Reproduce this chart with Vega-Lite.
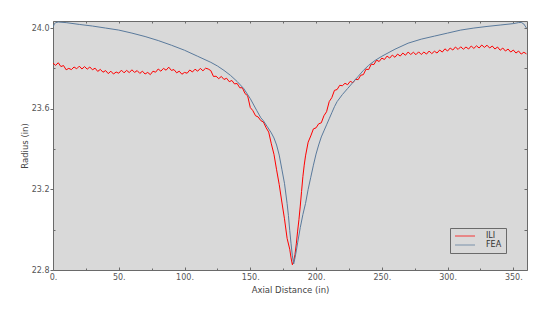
{
  "$schema": "https://vega.github.io/schema/vega-lite/v6.json",
  "width": 474,
  "height": 249,
  "autosize": {"type": "none"},
  "padding": {"left": 53, "top": 21, "right": 25, "bottom": 44},
  "background": "white",
  "config": {
    "view": {"fill": "#d9d9d9", "stroke": "#6a6a6a", "strokeWidth": 1},
    "axis": {
      "grid": false,
      "domain": false,
      "tickColor": "#6a6a6a",
      "tickWidth": 1,
      "labelFont": "DejaVu Sans",
      "labelFontSize": 8,
      "labelColor": "#555555",
      "titleFont": "DejaVu Sans",
      "titleFontSize": 8.5,
      "titleFontWeight": "normal",
      "titleColor": "#444444",
      "labelFlush": false,
      "labelOverlap": false
    }
  },
  "datasets": {
    "ili": [
      {"x":0,"y":23.826},{"x":2,"y":23.815},{"x":4,"y":23.828},{"x":6,"y":23.809},{"x":8,"y":23.814},{"x":10,"y":23.793},{"x":12,"y":23.8},{"x":14,"y":23.794},{"x":16,"y":23.807},{"x":18,"y":23.798},
      {"x":20,"y":23.811},{"x":22,"y":23.797},{"x":24,"y":23.809},{"x":26,"y":23.796},{"x":28,"y":23.807},{"x":30,"y":23.793},{"x":32,"y":23.801},{"x":34,"y":23.785},{"x":36,"y":23.795},{"x":38,"y":23.781},
      {"x":40,"y":23.789},{"x":42,"y":23.774},{"x":44,"y":23.786},{"x":46,"y":23.772},{"x":48,"y":23.782},{"x":50,"y":23.776},{"x":52,"y":23.791},{"x":54,"y":23.778},{"x":56,"y":23.79},{"x":58,"y":23.779},
      {"x":60,"y":23.793},{"x":62,"y":23.78},{"x":64,"y":23.789},{"x":66,"y":23.775},{"x":68,"y":23.786},{"x":70,"y":23.772},{"x":72,"y":23.78},{"x":74,"y":23.769},{"x":76,"y":23.786},{"x":78,"y":23.781},
      {"x":80,"y":23.797},{"x":82,"y":23.786},{"x":84,"y":23.8},{"x":86,"y":23.791},{"x":88,"y":23.806},{"x":90,"y":23.79},{"x":92,"y":23.794},{"x":94,"y":23.778},{"x":96,"y":23.786},{"x":98,"y":23.771},
      {"x":100,"y":23.78},{"x":102,"y":23.776},{"x":104,"y":23.792},{"x":106,"y":23.782},{"x":108,"y":23.796},{"x":110,"y":23.786},{"x":112,"y":23.8},{"x":114,"y":23.788},{"x":116,"y":23.801},{"x":118,"y":23.797},
      {"x":120,"y":23.789},{"x":122,"y":23.76},{"x":124,"y":23.761},{"x":126,"y":23.749},{"x":128,"y":23.76},{"x":130,"y":23.745},{"x":132,"y":23.751},{"x":134,"y":23.734},{"x":136,"y":23.74},{"x":138,"y":23.723},
      {"x":140,"y":23.725},{"x":142,"y":23.704},{"x":144,"y":23.704},{"x":146,"y":23.675},{"x":148,"y":23.664},{"x":150,"y":23.606},{"x":152,"y":23.59},{"x":154,"y":23.565},{"x":156,"y":23.559},{"x":158,"y":23.541},
      {"x":160,"y":23.534},{"x":162,"y":23.506},{"x":164,"y":23.484},{"x":166,"y":23.426},{"x":168,"y":23.374},{"x":170,"y":23.297},{"x":172,"y":23.224},{"x":174,"y":23.137},{"x":176,"y":23.054},{"x":178,"y":22.957},
      {"x":180,"y":22.903},{"x":181,"y":22.86},{"x":182,"y":22.826},{"x":183,"y":22.843},{"x":184,"y":22.877},{"x":185,"y":22.93},{"x":186,"y":22.993},{"x":187,"y":23.05},{"x":188,"y":23.117},{"x":189,"y":23.19},
      {"x":190,"y":23.263},{"x":191,"y":23.32},{"x":192,"y":23.366},{"x":193,"y":23.4},{"x":194,"y":23.434},{"x":196,"y":23.465},{"x":198,"y":23.5},{"x":200,"y":23.505},{"x":202,"y":23.525},{"x":204,"y":23.53},
      {"x":206,"y":23.565},{"x":208,"y":23.585},{"x":210,"y":23.635},{"x":212,"y":23.655},{"x":214,"y":23.691},{"x":216,"y":23.695},{"x":218,"y":23.716},{"x":220,"y":23.714},{"x":222,"y":23.726},{"x":224,"y":23.719},
      {"x":226,"y":23.736},{"x":228,"y":23.729},{"x":230,"y":23.746},{"x":232,"y":23.744},{"x":234,"y":23.766},{"x":236,"y":23.769},{"x":238,"y":23.796},{"x":240,"y":23.794},{"x":242,"y":23.821},{"x":244,"y":23.819},
      {"x":246,"y":23.841},{"x":248,"y":23.834},{"x":250,"y":23.851},{"x":252,"y":23.844},{"x":254,"y":23.861},{"x":256,"y":23.851},{"x":258,"y":23.866},{"x":260,"y":23.855},{"x":262,"y":23.871},{"x":264,"y":23.861},
      {"x":266,"y":23.876},{"x":268,"y":23.865},{"x":270,"y":23.881},{"x":272,"y":23.869},{"x":274,"y":23.88},{"x":276,"y":23.868},{"x":278,"y":23.882},{"x":280,"y":23.869},{"x":282,"y":23.881},{"x":284,"y":23.871},
      {"x":286,"y":23.886},{"x":288,"y":23.873},{"x":290,"y":23.885},{"x":292,"y":23.876},{"x":294,"y":23.891},{"x":296,"y":23.881},{"x":298,"y":23.897},{"x":300,"y":23.886},{"x":302,"y":23.901},{"x":304,"y":23.891},
      {"x":306,"y":23.906},{"x":308,"y":23.894},{"x":310,"y":23.907},{"x":312,"y":23.895},{"x":314,"y":23.906},{"x":316,"y":23.896},{"x":318,"y":23.911},{"x":320,"y":23.899},{"x":322,"y":23.912},{"x":324,"y":23.901},
      {"x":326,"y":23.916},{"x":328,"y":23.904},{"x":330,"y":23.915},{"x":332,"y":23.901},{"x":334,"y":23.911},{"x":336,"y":23.896},{"x":338,"y":23.906},{"x":340,"y":23.89},{"x":342,"y":23.901},{"x":344,"y":23.886},
      {"x":346,"y":23.896},{"x":348,"y":23.881},{"x":350,"y":23.891},{"x":352,"y":23.876},{"x":354,"y":23.886},{"x":356,"y":23.871},{"x":358,"y":23.88},{"x":360,"y":23.872}
    ],
    "fea": [
      {"x":0,"y":24.005},{"x":1,"y":24.02},{"x":2,"y":24.027},{"x":4,"y":24.03},{"x":10,"y":24.027},{"x":20,"y":24.018},{"x":30,"y":24.01},{"x":40,"y":24.0},{"x":50,"y":23.99},{"x":60,"y":23.975},
      {"x":70,"y":23.958},{"x":80,"y":23.938},{"x":90,"y":23.915},{"x":100,"y":23.89},{"x":110,"y":23.86},{"x":120,"y":23.83},{"x":125,"y":23.812},{"x":130,"y":23.79},{"x":135,"y":23.765},{"x":140,"y":23.735},
      {"x":145,"y":23.7},{"x":150,"y":23.65},{"x":155,"y":23.59},{"x":158,"y":23.555},{"x":160,"y":23.54},{"x":163,"y":23.51},{"x":166,"y":23.48},{"x":168,"y":23.455},{"x":170,"y":23.42},{"x":172,"y":23.37},
      {"x":174,"y":23.3},{"x":176,"y":23.23},{"x":178,"y":23.13},{"x":179,"y":23.07},{"x":180,"y":22.995},{"x":181,"y":22.93},{"x":182,"y":22.87},{"x":183,"y":22.83},{"x":184,"y":22.86},{"x":185,"y":22.895},
      {"x":186,"y":22.935},{"x":188,"y":23.01},{"x":190,"y":23.075},{"x":192,"y":23.13},{"x":194,"y":23.2},{"x":196,"y":23.26},{"x":198,"y":23.32},{"x":200,"y":23.375},{"x":202,"y":23.42},{"x":204,"y":23.46},
      {"x":206,"y":23.49},{"x":208,"y":23.52},{"x":210,"y":23.55},{"x":212,"y":23.58},{"x":214,"y":23.61},{"x":216,"y":23.635},{"x":220,"y":23.67},{"x":224,"y":23.7},{"x":228,"y":23.73},{"x":232,"y":23.76},
      {"x":236,"y":23.79},{"x":240,"y":23.815},{"x":245,"y":23.84},{"x":250,"y":23.86},{"x":260,"y":23.895},{"x":270,"y":23.925},{"x":280,"y":23.945},{"x":290,"y":23.96},{"x":300,"y":23.975},{"x":310,"y":23.99},
      {"x":320,"y":24.0},{"x":330,"y":24.008},{"x":340,"y":24.015},{"x":350,"y":24.022},{"x":354,"y":24.027},{"x":356,"y":24.028},{"x":358,"y":24.02},{"x":359,"y":24.01},{"x":360,"y":24.0}
    ]
  },
  "resolve": {"axis": {"x": "independent", "y": "independent"}},
  "layer": [
    {
      "data": {"name": "ili"},
      "mark": {"type": "line", "strokeWidth": 1, "clip": true},
      "encoding": {
        "x": {
          "field": "x", "type": "quantitative",
          "scale": {"domain": [0, 360.4], "nice": false, "zero": false},
          "axis": {
            "orient": "bottom",
            "title": "Axial Distance (in)",
            "values": [0,25,50,75,100,125,150,175,200,225,250,275,300,325,350],
            "labelExpr": "datum.value % 50 === 0 ? datum.value + '.' : ''",
            "tickSize": {"condition": {"test": "datum.value % 50 === 0", "value": -3}, "value": -2},
            "labelPadding": 6,
            "titlePadding": 3
          }
        },
        "y": {
          "field": "y", "type": "quantitative",
          "scale": {"domain": [22.8, 24.035], "nice": false, "zero": false},
          "axis": {
            "orient": "left",
            "title": "Radius (in)",
            "values": [22.8, 23.0, 23.2, 23.4, 23.6, 23.8, 24.0],
            "labelExpr": "round(datum.value * 10) % 4 === 0 ? format(datum.value, '.1f') : ''",
            "tickSize": {"condition": {"test": "round(datum.value * 10) % 4 === 0", "value": 3}, "value": -2},
            "labelPadding": 1,
            "titlePadding": 2
          }
        },
        "color": {
          "datum": "ILI",
          "scale": {"domain": ["ILI", "FEA"], "range": ["#ff0000", "#5a7a9c"]},
          "legend": {
            "orient": "none",
            "legendX": 397,
            "legendY": 207,
            "title": null,
            "direction": "vertical",
            "symbolType": "M-4,0H4",
            "symbolSize": 25,
            "symbolStrokeWidth": 1,
            "symbolOpacity": 0.75,
            "symbolOffset": 7,
            "labelFont": "DejaVu Sans",
            "labelFontSize": 8,
            "labelColor": "#333333",
            "labelOffset": 17,
            "rowPadding": 1,
            "padding": 4,
            "strokeColor": "#6a6a6a",
            "fillColor": "#d9d9d9"
          }
        }
      }
    },
    {
      "data": {"name": "fea"},
      "mark": {"type": "line", "strokeWidth": 1, "clip": true},
      "encoding": {
        "x": {
          "field": "x", "type": "quantitative",
          "axis": {
            "orient": "top",
            "title": null,
            "labels": false,
            "values": [0,25,50,75,100,125,150,175,200,225,250,275,300,325,350],
            "tickSize": -2
          }
        },
        "y": {
          "field": "y", "type": "quantitative",
          "axis": {
            "orient": "right",
            "title": null,
            "labels": false,
            "values": [22.8, 23.0, 23.2, 23.4, 23.6, 23.8, 24.0],
            "tickSize": -3
          }
        },
        "color": {"datum": "FEA"}
      }
    }
  ]
}
